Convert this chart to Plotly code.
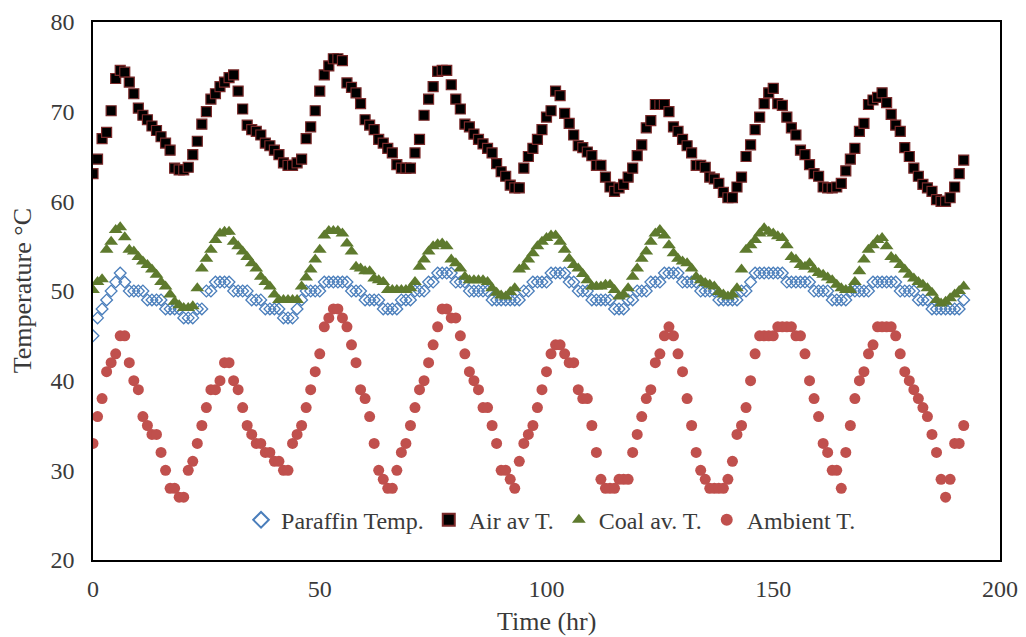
import plotly.graph_objects as go

hours = list(range(0, 193))

paraffin = [
    45, 47, 48, 49, 50, 51, 52, 51, 50, 50, 50, 50, 49, 49, 49, 49, 48, 48, 48, 48, 47, 47, 47, 48,
    48, 50, 50, 51, 51, 51, 51, 50, 50, 50, 50, 49, 49, 49, 48, 48, 48, 48, 47, 47, 47, 48, 49, 50,
    50, 50, 50, 51, 51, 51, 51, 51, 51, 50, 50, 50, 49, 49, 49, 49, 48, 48, 48, 48, 49, 49, 49, 50,
    50, 50, 51, 51, 52, 52, 52, 52, 51, 51, 51, 50, 50, 50, 50, 50, 49, 49, 49, 49, 49, 49, 49, 50,
    50, 51, 51, 51, 51, 52, 52, 52, 52, 51, 51, 50, 50, 50, 49, 49, 49, 49, 49, 48, 48, 48, 49, 49,
    50, 50, 50, 51, 51, 51, 52, 52, 52, 52, 51, 51, 51, 51, 50, 50, 50, 50, 49, 49, 49, 49, 49, 50,
    50, 51, 52, 52, 52, 52, 52, 52, 52, 51, 51, 51, 51, 51, 51, 50, 50, 50, 50, 49, 49, 49, 49, 50,
    50, 50, 50, 50, 51, 51, 51, 51, 51, 51, 50, 50, 50, 50, 49, 49, 49, 48, 48, 48, 48, 48, 48, 48,
    49,
]

air = [
    63.1, 64.7, 67.0, 67.7, 70.1, 73.7, 74.6, 74.4, 73.3, 72.0, 70.4, 69.6, 69.1, 68.4, 67.9, 67.2, 66.5, 65.7, 63.7, 63.5, 63.5, 63.8, 65.2, 66.7,
    68.6, 70.0, 71.4, 72.0, 72.8, 73.3, 73.8, 74.1, 72.3, 70.3, 68.5, 68.0, 67.8, 67.4, 66.5, 66.2, 65.7, 65.2, 64.3, 64.0, 64.0, 64.3, 64.7, 67.0,
    68.3, 70.1, 72.3, 74.1, 75.1, 75.9, 75.9, 75.7, 73.2, 72.7, 72.1, 70.9, 69.1, 68.5, 68.0, 66.9, 66.5, 65.9, 65.4, 64.1, 63.7, 63.7, 63.7, 65.4,
    66.9, 69.6, 71.4, 72.8, 74.5, 74.6, 74.6, 73.0, 71.4, 70.3, 68.6, 68.3, 67.5, 66.9, 66.4, 65.9, 65.4, 64.2, 63.3, 62.8, 61.8, 61.5, 61.5, 63.7,
    65.0, 65.9, 66.9, 68.0, 69.4, 70.1, 72.3, 71.8, 69.8, 68.7, 67.4, 66.2, 66.0, 65.5, 65.1, 64.0, 64.0, 62.7, 61.6, 61.1, 61.5, 61.9, 62.7, 63.7,
    65.1, 66.3, 68.2, 69.0, 70.8, 70.8, 70.8, 70.0, 68.3, 67.8, 66.9, 66.2, 65.4, 64.0, 64.0, 63.8, 62.7, 62.5, 62.0, 61.0, 60.4, 60.4, 61.6, 62.7,
    65.0, 66.3, 68.0, 69.4, 70.9, 72.1, 72.6, 70.9, 70.7, 69.4, 68.2, 67.4, 65.7, 65.2, 64.1, 63.1, 62.8, 61.6, 61.5, 61.5, 61.6, 62.0, 63.4, 64.7,
    65.9, 67.8, 68.7, 70.8, 71.3, 71.6, 72.1, 71.0, 69.7, 68.5, 67.8, 66.0, 65.0, 63.7, 62.8, 61.9, 61.5, 61.1, 60.2, 60.0, 60.0, 60.4, 61.6, 63.1,
    64.6,
]

coal = [
    50.1, 51.0, 51.3, 54.6, 55.5, 56.8, 57.1, 56.0, 54.6, 54.4, 53.8, 53.3, 52.9, 52.4, 51.8, 51.0, 50.5, 49.6, 48.8, 48.4, 48.1, 48.1, 48.3, 50.3,
    52.5, 53.6, 54.6, 55.7, 56.4, 56.6, 56.6, 55.5, 55.0, 54.4, 53.8, 53.1, 52.5, 51.6, 51.0, 50.5, 49.6, 49.0, 49.0, 49.0, 49.0, 49.0, 50.5, 51.5,
    52.4, 53.5, 54.6, 56.2, 56.7, 56.7, 56.7, 56.4, 55.3, 54.4, 52.7, 52.5, 52.2, 52.2, 51.4, 51.2, 51.0, 50.1, 50.1, 50.1, 50.1, 50.1, 50.3, 51.0,
    52.7, 53.5, 54.4, 55.0, 55.2, 55.3, 55.0, 53.5, 53.1, 52.5, 51.6, 51.2, 51.2, 51.2, 51.2, 51.0, 50.3, 49.8, 49.5, 49.4, 49.9, 50.3, 52.4, 52.7,
    53.5, 54.2, 55.0, 55.5, 55.9, 56.2, 56.2, 55.5, 54.6, 53.6, 52.9, 52.5, 51.9, 51.2, 50.5, 50.5, 50.5, 50.7, 50.7, 50.1, 49.4, 49.6, 50.3, 51.6,
    52.5, 53.6, 54.4, 55.5, 56.4, 56.8, 56.2, 55.1, 54.2, 53.6, 53.3, 53.1, 52.5, 51.6, 51.2, 50.9, 50.7, 50.5, 49.9, 49.6, 49.4, 49.6, 50.3, 52.4,
    54.6, 55.1, 55.7, 56.4, 57.0, 56.6, 56.4, 56.1, 55.9, 55.1, 53.8, 53.5, 52.9, 52.7, 53.1, 52.4, 52.0, 51.8, 51.5, 51.2, 50.7, 50.3, 50.1, 50.1,
    51.0, 52.2, 53.5, 54.6, 55.1, 55.7, 55.9, 55.0, 53.8, 53.5, 52.9, 52.4, 51.8, 51.4, 51.0, 50.7, 50.3, 49.8, 49.0, 48.6, 48.8, 49.2, 49.6, 50.0,
    50.5,
]

ambient = [
    33, 36, 38, 41, 42, 43, 45, 45, 42, 40, 39, 36, 35, 34, 34, 32, 30, 28, 28, 27, 27, 30, 31, 33,
    35, 37, 39, 39, 40, 42, 42, 40, 39, 37, 35, 34, 33, 33, 32, 32, 31, 31, 30, 30, 33, 34, 35, 37,
    39, 41, 43, 46, 47, 48, 48, 47, 46, 44, 42, 39, 38, 36, 33, 30, 29, 28, 28, 30, 32, 33, 35, 37,
    39, 40, 42, 44, 46, 48, 48, 47, 47, 45, 43, 41, 40, 39, 37, 37, 35, 33, 30, 30, 29, 28, 31, 33,
    34, 35, 37, 39, 41, 43, 44, 44, 43, 42, 42, 39, 38, 38, 35, 32, 29, 28, 28, 28, 29, 29, 29, 32,
    34, 36, 38, 39, 42, 43, 45, 46, 45, 43, 41, 38, 35, 32, 30, 29, 28, 28, 28, 28, 29, 31, 34, 35,
    37, 40, 43, 45, 45, 45, 45, 46, 46, 46, 46, 45, 45, 43, 40, 38, 36, 33, 32, 30, 30, 28, 32, 35,
    38, 40, 41, 43, 44, 46, 46, 46, 46, 45, 43, 41, 40, 39, 38, 37, 36, 34, 32, 29, 27, 29, 33, 33,
    35,
]

names = ["Paraffin Temp.", "Air av T.", "Coal av. T.", "Ambient T."]
x_title = "Time (hr)"
y_title = "Temperature °C"

FONT = "Liberation Serif, Times New Roman, serif"
TXT = "#3a3a3a"

fig = go.Figure()
fig.add_trace(go.Scatter(
    x=hours, y=paraffin, mode="markers", name=names[0],
    marker=dict(symbol="diamond-open", size=9, color="#4a7ebb", line=dict(width=1.3, color="#4a7ebb")),
))
fig.add_trace(go.Scatter(
    x=hours, y=air, mode="markers", name=names[1],
    marker=dict(symbol="square", size=10, color="#000000", line=dict(width=1.2, color="#7b2a2a")),
))
fig.add_trace(go.Scatter(
    x=hours, y=coal, mode="markers", name=names[2],
    marker=dict(symbol="triangle-up", size=12, color="#5e7a2e", line=dict(width=0)),
))
fig.add_trace(go.Scatter(
    x=hours, y=ambient, mode="markers", name=names[3],
    marker=dict(symbol="circle", size=11, color="#c0504d", line=dict(width=0)),
))

fig.update_layout(
    width=1018, height=629,
    margin=dict(l=85, r=26, t=14, b=77, autoexpand=False),
    paper_bgcolor="white", plot_bgcolor="white",
    font=dict(family=FONT, size=20, color=TXT),
    showlegend=True,
    legend=dict(
        orientation="h", x=0.505, y=0.074, xanchor="center", yanchor="middle",
        bgcolor="rgba(255,255,255,0)", font=dict(family=FONT, size=24, color=TXT),
        itemsizing="constant", tracegroupgap=0, itemwidth=30,
    ),
    annotations=[
        dict(text=x_title, xref="paper", yref="paper", x=0.5, y=-0.115, xanchor="center",
             yanchor="middle", showarrow=False, font=dict(family=FONT, size=26, color=TXT)),
        dict(text=y_title, xref="paper", yref="paper", x=-0.078, y=0.5, xanchor="center",
             yanchor="middle", textangle=-90, showarrow=False, font=dict(family=FONT, size=26, color=TXT)),
    ],
)
fig.update_xaxes(
    range=[0, 200], dtick=50, tick0=0, automargin=False,
    showline=True, linecolor="black", linewidth=1.5, mirror=True,
    showgrid=False, zeroline=False, ticks="", ticklabelstandoff=6,
    tickfont=dict(family=FONT, size=24, color=TXT),
)
fig.update_yaxes(
    range=[20, 80], dtick=10, tick0=20, automargin=False,
    showline=True, linecolor="black", linewidth=1.5, mirror=True,
    showgrid=False, zeroline=False, ticks="", ticklabelstandoff=12,
    tickfont=dict(family=FONT, size=24, color=TXT),
)

fig.write_html("out.html")
